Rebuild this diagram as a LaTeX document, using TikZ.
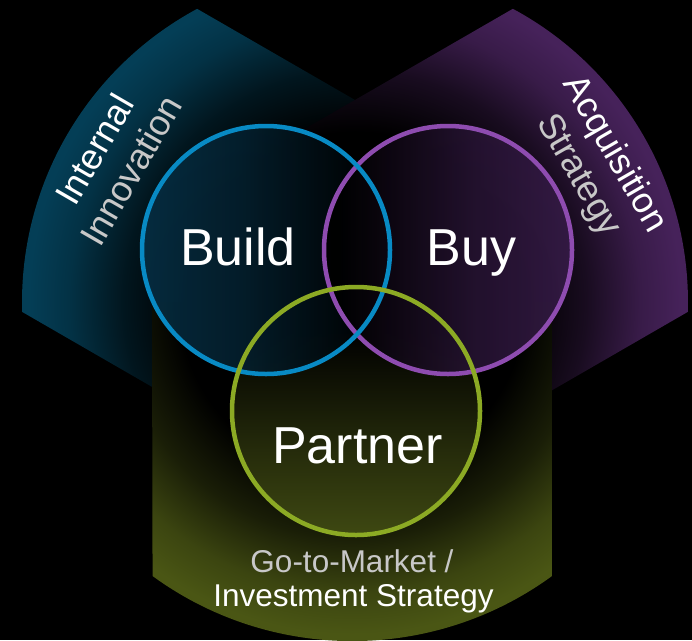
\documentclass[tikz,border=0pt]{standalone}
\usepackage{fontspec}
\setmainfont{Liberation Sans}
\definecolor{tealC}{RGB}{4,62,86}
\definecolor{purpC}{RGB}{70,34,90}
\definecolor{oliveC}{RGB}{74,86,20}
\colorlet{tealA}{tealC!35!black}
\colorlet{tealB}{tealC!80!black}
\colorlet{purpA}{purpC!35!black}
\colorlet{purpB}{purpC!80!black}
\colorlet{oliveA}{oliveC!35!black}
\colorlet{oliveB}{oliveC!80!black}
\definecolor{blueL}{RGB}{8,138,196}
\definecolor{purpL}{RGB}{142,76,176}
\definecolor{greenL}{RGB}{140,170,36}
\definecolor{buildF}{RGB}{6,48,70}
\definecolor{buyF}{RGB}{56,28,74}
\definecolor{partF}{RGB}{62,72,18}
\colorlet{buildM}{buildF!70!black}
\colorlet{buyM}{buyF!70!black}
\colorlet{partM}{partF!60!black}
\definecolor{lgray}{RGB}{200,200,200}
\pgfdeclareradialshading{tealrad}{\pgfpointorigin}{color(0bp)=(black); color(12.5bp)=(black); color(17bp)=(tealA); color(21bp)=(tealB); color(24bp)=(tealC); color(50bp)=(tealC)}
\pgfdeclareradialshading{purprad}{\pgfpointorigin}{color(0bp)=(black); color(12.5bp)=(black); color(17bp)=(purpA); color(21bp)=(purpB); color(24bp)=(purpC); color(50bp)=(purpC)}
\pgfdeclareradialshading{oliverad}{\pgfpointorigin}{color(0bp)=(black); color(12.5bp)=(black); color(17bp)=(oliveA); color(21bp)=(oliveB); color(24bp)=(oliveC); color(50bp)=(oliveC)}
\pgfdeclarehorizontalshading{buildsh}{100bp}{color(0bp)=(buildF); color(25bp)=(buildF); color(45bp)=(buildM); color(72bp)=(black); color(100bp)=(black)}
\pgfdeclarehorizontalshading{buysh}{100bp}{color(0bp)=(black); color(28bp)=(black); color(55bp)=(buyM); color(75bp)=(buyF); color(100bp)=(buyF)}
\pgfdeclareverticalshading{partsh}{100bp}{color(0bp)=(partF); color(25bp)=(partF); color(42bp)=(partM); color(66bp)=(black); color(100bp)=(black)}
\tikzset{
  ring/.style={line width=4.5pt},
  big/.style={text=white, font=\fontsize{52}{60}\selectfont, inner sep=0pt},
  toplbl/.style={align=center, font=\fontsize{36}{42}\selectfont, inner sep=0pt},
  botlbl/.style={font=\fontsize{31.5}{34}\selectfont, inner sep=0pt, anchor=base}
}
\begin{document}
\begin{tikzpicture}[x=1pt,y=-1pt]
\fill[black] (0,0) rectangle (692,640);
\useasboundingbox (0,0) rectangle (692,640);
\coordinate (C) at (355,302);
\coordinate (CB) at (352,302);
% teal sector
\begin{scope}
\clip[shift={(C)},rotate=150] (0,-175) -- (283.3,-175) arc[start angle=-31.7,end angle=31.7,radius=333] -- (0,175) -- cycle;
\shade[shading=tealrad] (C) circle[radius=340];
\end{scope}
% purple sector
\begin{scope}
\clip[shift={(C)},rotate=30] (0,-175) -- (283.3,-175) arc[start angle=-31.7,end angle=31.7,radius=333] -- (0,175) -- cycle;
\shade[shading=purprad] (C) circle[radius=340];
\end{scope}
% olive sector
\begin{scope}
\clip[shift={(CB)},rotate=270] (0,-200) -- (274,-200) arc[start angle=-36.1,end angle=36.1,radius=339] -- (0,200) -- cycle;
\shade[shading=oliverad] (CB) circle[radius=346];
\end{scope}
% circle fills
\shade[shading=partsh] (356,411) circle[radius=124];
\shade[shading=buildsh, fill opacity=0.85] (266,250) circle[radius=124];
\shade[shading=buysh, fill opacity=0.85] (448,250) circle[radius=124];
% outlines
\node[circle, draw=purpL, ring, minimum size=248pt, inner sep=0pt] (buy) at (448,250) {};
\node[circle, draw=blueL, ring, minimum size=248pt, inner sep=0pt] (build) at (266,250) {};
\node[circle, draw=greenL, ring, minimum size=248pt, inner sep=0pt] (partner) at (356,411) {};
% main labels
\node[big, anchor=base] (buildt) at (238,265) {Build};
\node[big, anchor=base] (buyt) at (471.5,265) {Buy};
\node[big, anchor=base] (partnert) at (357.5,463) {Partner};
% sector labels
\node[toplbl, rotate=60] (intl) at (113,160) {{\color{white}Internal}\\{\color{lgray}Innovation}};
\node[toplbl, rotate=-60] (acq) at (596,165) {{\color{white}Acquisition}\\{\color{lgray}Strategy}};
\node[botlbl, text=lgray] (gtm) at (352,572.7) {Go-to-Market /};
\node[botlbl, text=white] (inv) at (353.5,606) {Investment Strategy};
\end{tikzpicture}
\end{document}
